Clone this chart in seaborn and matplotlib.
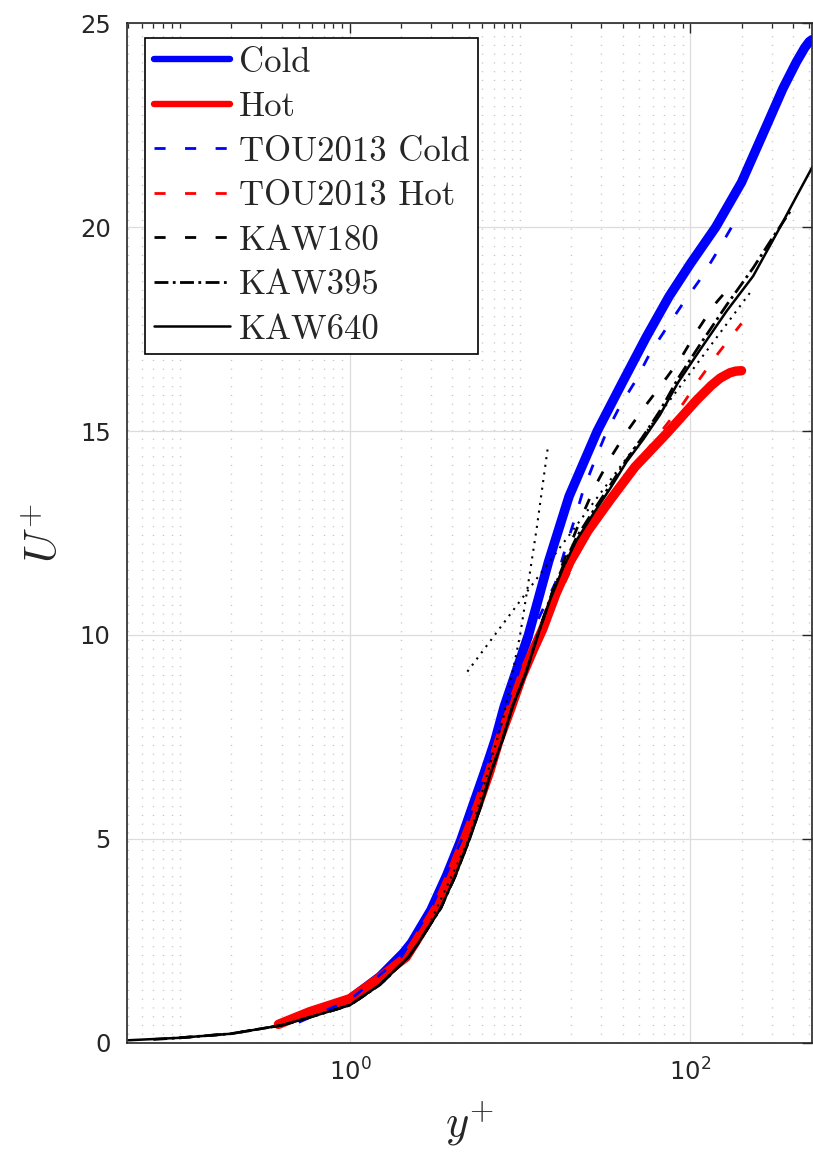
import matplotlib
matplotlib.use("Agg")
import matplotlib.pyplot as plt
from matplotlib.font_manager import FontProperties
from matplotlib.ticker import FixedLocator, NullFormatter
import pandas as pd
import seaborn as sns

# Mean streamwise velocity profiles in wall units (y+, U+)
cold_yp = [0.85, 1.0, 1.5, 2.06, 2.3, 2.99, 3.70, 4.47, 5.25, 6.15, 7.13, 8.06,
           9.2, 11.2, 14.7, 19.4, 28.4, 40, 55, 75, 100, 141, 200, 268, 350, 420, 470, 500, 520]
cold_up = [0.93, 1.07, 1.62, 2.2, 2.45, 3.25, 4.1, 4.95, 5.79, 6.61, 7.42, 8.24,
           8.95, 10.0, 11.8, 13.4, 15.0, 16.2, 17.3, 18.3, 19.1, 20.0, 21.1, 22.3, 23.4, 24.05, 24.4, 24.55, 24.6]

hot_yp = [0.38, 0.58, 1.0, 1.5, 2.14, 2.42, 3.21, 3.90, 4.69, 5.61, 6.58, 7.53, 8.82,
          10.3, 12.0, 13.6, 16.2, 19.7, 25, 33.8, 47.3, 72.6, 109, 133, 150, 171, 185, 200]
hot_up = [0.45, 0.76, 1.08, 1.6, 2.1, 2.45, 3.3, 4.12, 4.97, 5.79, 6.61, 7.42, 8.2,
          9.0, 9.65, 10.15, 11.0, 11.8, 12.55, 13.31, 14.12, 14.94, 15.76, 16.12, 16.3, 16.43, 16.47, 16.48]

tou_cold_yp = [0.5, 1.0, 2.0, 3.0, 4.5, 6.0, 8.0, 10.0, 12.5, 16.1, 18.4, 20.6, 23.5, 27.6,
               32.0, 38.7, 48.0, 58.0, 73.3, 91.9, 117, 146, 187]
tou_cold_up = [0.5, 1.05, 2.1, 3.3, 4.95, 6.4, 8.0, 9.2, 10.3, 11.27, 12.1, 12.75, 13.55, 14.3,
               14.95, 15.62, 16.25, 16.91, 17.56, 18.17, 18.78, 19.44, 20.21]

tou_hot_yp = [0.4, 1.0, 2.0, 3.0, 4.5, 6.0, 8.0, 10.0, 13.0, 17.0, 22.0, 30.0, 42.3, 54.2,
              71.0, 91.0, 114, 146, 200]
tou_hot_up = [0.45, 1.05, 2.0, 3.1, 4.8, 6.0, 7.6, 8.8, 9.9, 11.0, 12.0, 13.1, 13.9, 14.47,
              15.11, 15.68, 16.29, 16.91, 17.64]

kaw180_yp = [0.1, 0.2, 0.4, 0.6, 1.0, 1.5, 2.21, 2.53, 3.42, 4.19, 5.02, 5.87, 6.71, 7.87,
             9.01, 10.8, 12.4, 15.0, 18.0, 23.0, 27.6, 33.8, 42.0, 54.0, 69.5, 89.0, 109, 138, 171, 180]
kaw180_up = [0.12, 0.22, 0.43, 0.64, 0.92, 1.42, 2.1, 2.45, 3.3, 4.12, 4.97, 5.79, 6.61, 7.42,
             8.24, 9.06, 9.87, 10.9, 11.8, 12.9, 13.65, 14.33, 14.96, 15.6, 16.2, 16.82, 17.44, 18.09, 18.54, 18.6]

kaw395_yp = [0.07, 0.1, 0.2, 0.4, 0.6, 1.0, 1.5, 2.21, 2.53, 3.42, 4.19, 5.02, 5.87, 6.71,
             7.87, 9.01, 10.8, 12.6, 15.0, 18.0, 21.5, 27.0, 33.8, 42.3, 53.0, 66.4, 85.0,
             114, 164, 234, 300, 395]
kaw395_up = [0.08, 0.12, 0.22, 0.43, 0.64, 0.92, 1.42, 2.1, 2.45, 3.3, 4.12, 4.97, 5.79, 6.61,
             7.42, 8.24, 9.06, 9.95, 10.9, 11.72, 12.4, 13.05, 13.67, 14.3, 14.88, 15.5, 16.3,
             17.12, 18.1, 19.0, 19.7, 20.45]

kaw640_yp = [0.05, 0.1, 0.2, 0.4, 0.6, 1.0, 1.5, 2.21, 2.53, 3.42, 4.19, 5.02, 5.87, 6.71,
             7.87, 9.01, 10.8, 12.6, 15.0, 18.0, 21.5, 27.0, 33.8, 42.3, 53.0, 66.4, 85.0,
             114, 164, 234, 337, 420, 525]
kaw640_up = [0.06, 0.12, 0.22, 0.43, 0.64, 0.92, 1.42, 2.1, 2.45, 3.3, 4.12, 4.97, 5.79, 6.61,
             7.42, 8.24, 9.06, 9.95, 10.86, 11.67, 12.33, 12.98, 13.59, 14.25, 14.8, 15.4, 16.2,
             16.99, 17.95, 18.8, 20.0, 20.75, 21.5]

# reference laws: viscous sublayer and logarithmic layer
visc_yp = [3.0, 5.0, 8.0, 10.0, 11.2, 12.5, 14.5]
visc_up = [3.0, 5.0, 8.0, 10.0, 11.3, 12.6, 14.55]
log_yp = [4.9, 225]
log_up = [9.1, 18.4]

legend_labels = ["Cold", "Hot", "TOU2013 Cold", "TOU2013 Hot", "KAW180", "KAW395", "KAW640"]
ytick_vals = [0, 5, 10, 15, 20, 25]
xtick_vals = [1, 100]
xtick_labels = [r"$\mathdefault{10^{0}}$", r"$\mathdefault{10^{2}}$"]

frames = []
for key, yp, up in [("cold", cold_yp, cold_up), ("hot", hot_yp, hot_up),
                    ("tou_cold", tou_cold_yp, tou_cold_up), ("tou_hot", tou_hot_yp, tou_hot_up),
                    ("kaw180", kaw180_yp, kaw180_up), ("kaw395", kaw395_yp, kaw395_up),
                    ("kaw640", kaw640_yp, kaw640_up), ("visc", visc_yp, visc_up),
                    ("log", log_yp, log_up)]:
    frames.append(pd.DataFrame({"yplus": yp, "uplus": up, "case": key}))
profiles = pd.concat(frames, ignore_index=True)

sns.set_style("white")
plt.rcParams["font.family"] = ["DejaVu Sans"]
plt.rcParams["mathtext.fontset"] = "cm"

ink = "#262626"
dash = (0, (4.0, 7.0))
dashdot = (0, (5.0, 1.6, 1.0, 1.6))
dots = (0, (1.0, 2.7))

styles = [
    ("cold", "Cold", "#0000ff", "-", 6.8),
    ("hot", "Hot", "#ff0000", "-", 6.8),
    ("tou_cold", "TOU2013 Cold", "#0000ff", dash, 2.0),
    ("tou_hot", "TOU2013 Hot", "#ff0000", dash, 2.0),
    ("kaw180", "KAW180", "black", dash, 2.0),
    ("kaw395", "KAW395", "black", dashdot, 2.0),
    ("kaw640", "KAW640", "black", "-", 1.8),
    ("visc", "_nolegend_", "black", dots, 1.5),
    ("log", "_nolegend_", "black", dots, 1.5),
]

W, H = 813, 1152
fig = plt.figure(figsize=(W / 100, H / 100), dpi=100)
x0, x1, ytop, ybot = 127.3, 812.3, 23.3, 1042.7
ax = fig.add_axes([x0 / W, (H - ybot) / H, (x1 - x0) / W, (ybot - ytop) / H])
ax.set_xscale("log")

for key, label, color, ls, lw in styles:
    sns.lineplot(data=profiles[profiles["case"] == key], x="yplus", y="uplus", ax=ax,
                 color=color, linestyle=ls, linewidth=lw, sort=False, estimator=None,
                 errorbar=None, label=label)

ax.set_xlim(0.0492, 521)
ax.set_ylim(0, 25)

ax.xaxis.set_major_locator(FixedLocator(xtick_vals))
ax.set_xticklabels(xtick_labels)
minor = [m * 10.0 ** e for e in range(-2, 3) for m in range(1, 10)]
minor = [v for v in minor if v not in (1, 100) and 0.0492 <= v <= 521]
ax.xaxis.set_minor_locator(FixedLocator(minor))
ax.xaxis.set_minor_formatter(NullFormatter())
ax.set_yticks(ytick_vals)
ax.set_yticklabels([str(v) for v in ytick_vals])

ax.set_axisbelow(True)
ax.grid(True, which="major", color="#dcdcdc", linewidth=0.9, linestyle="-")
ax.grid(True, which="minor", axis="x", color="#c4c4c4", linewidth=1.0, linestyle=(0, (0.8, 5.5)))

ax.tick_params(which="both", direction="in", top=True, right=True, color=ink,
               labelcolor=ink, labelsize=17.5)
ax.tick_params(which="major", length=7, width=1.0)
ax.tick_params(which="minor", length=3.5, width=0.9)
ax.tick_params(axis="x", which="major", pad=11)
ax.tick_params(axis="y", which="major", pad=12)
for sp in ax.spines.values():
    sp.set_color(ink)
    sp.set_linewidth(1.2)
    sp.set_visible(True)

ax.set_xlabel(r"$y^{+}$", fontsize=32, color=ink, labelpad=10)
ax.set_ylabel(r"$U^{+}$", fontsize=32, color=ink, labelpad=10)

handles, labels = ax.get_legend_handles_labels()
order = [labels.index(l) for l in legend_labels]
leg = ax.legend([handles[i] for i in order], legend_labels, loc="upper left",
                bbox_to_anchor=(0.0258, 0.9853), borderaxespad=0,
                prop=FontProperties(family="cmr10", size=25),
                handlelength=2.2, handletextpad=0.25, borderpad=0.25, labelspacing=0.37,
                frameon=True, fancybox=False, framealpha=1, edgecolor="black")
leg.get_frame().set_linewidth(1.2)
for line in leg.get_lines()[:2]:
    line.set_linewidth(4.6)

fig.savefig("out.png", dpi=100)
